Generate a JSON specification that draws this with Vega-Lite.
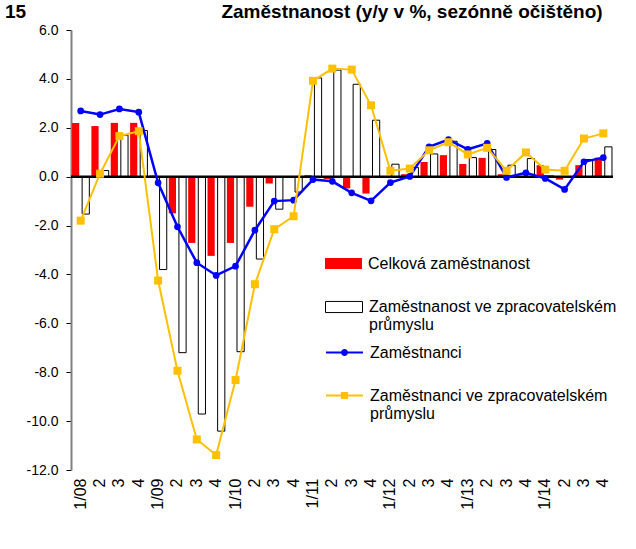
{
  "$schema": "https://vega.github.io/schema/vega-lite/v6.json",
  "width": 542,
  "height": 440,
  "autosize": {"type": "none"},
  "padding": {"left": 71, "top": 30, "right": 23, "bottom": 79},
  "background": "white",
  "title": {
    "text": "15\u00a0\u00a0\u00a0\u00a0\u00a0\u00a0\u00a0\u00a0\u00a0\u00a0\u00a0\u00a0\u00a0\u00a0\u00a0\u00a0\u00a0\u00a0\u00a0\u00a0\u00a0\u00a0\u00a0\u00a0\u00a0\u00a0\u00a0\u00a0\u00a0\u00a0\u00a0\u00a0\u00a0\u00a0\u00a0\u00a0\u00a0Zaměstnanost (y/y v %, sezónně očištěno)",
    "anchor": "start",
    "frame": "group",
    "dx": -66,
    "baseline": "alphabetic",
    "offset": -14,
    "font": "Liberation Sans",
    "fontSize": 19,
    "fontWeight": "bold",
    "color": "black"
  },
  "data": {
    "values": [
      {"q": "1/08", "celk": 2.2, "zpr": -1.53, "zam": 2.69, "zamzpr": -1.8},
      {"q": "2/08", "celk": 2.07, "zpr": 0.25, "zam": 2.54, "zamzpr": 0.12},
      {"q": "3/08", "celk": 2.2, "zpr": 1.7, "zam": 2.77, "zamzpr": 1.66},
      {"q": "4/08", "celk": 2.2, "zpr": 1.89, "zam": 2.64, "zamzpr": 1.86},
      {"q": "1/09", "celk": 0.05, "zpr": -3.8, "zam": -0.25, "zamzpr": -4.25},
      {"q": "2/09", "celk": -1.5, "zpr": -7.2, "zam": -2.05, "zamzpr": -7.94},
      {"q": "3/09", "celk": -2.71, "zpr": -9.71, "zam": -3.52, "zamzpr": -10.75},
      {"q": "4/09", "celk": -3.24, "zpr": -10.41, "zam": -4.04, "zamzpr": -11.39},
      {"q": "1/10", "celk": -2.71, "zpr": -7.16, "zam": -3.66, "zamzpr": -8.32},
      {"q": "2/10", "celk": -1.23, "zpr": -3.37, "zam": -2.19, "zamzpr": -4.4},
      {"q": "3/10", "celk": -0.28, "zpr": -1.33, "zam": -1.0, "zamzpr": -2.15},
      {"q": "4/10", "celk": 0.0, "zpr": -0.63, "zam": -0.96, "zamzpr": -1.62},
      {"q": "1/11", "celk": 0.06, "zpr": 4.04, "zam": -0.12, "zamzpr": 3.92},
      {"q": "2/11", "celk": -0.1, "zpr": 4.36, "zam": -0.19, "zamzpr": 4.42},
      {"q": "3/11", "celk": -0.48, "zpr": 3.78, "zam": -0.66, "zamzpr": 4.38},
      {"q": "4/11", "celk": -0.69, "zpr": 2.31, "zam": -0.99, "zamzpr": 2.92},
      {"q": "1/12", "celk": 0.0, "zpr": 0.51, "zam": -0.24, "zamzpr": 0.24},
      {"q": "2/12", "celk": 0.1, "zpr": 0.38, "zam": 0.01, "zamzpr": 0.33},
      {"q": "3/12", "celk": 0.6, "zpr": 0.93, "zam": 1.22, "zamzpr": 1.08},
      {"q": "4/12", "celk": 0.88, "zpr": 1.45, "zam": 1.52, "zamzpr": 1.41},
      {"q": "1/13", "celk": 0.52, "zpr": 0.78, "zam": 1.12, "zamzpr": 0.91},
      {"q": "2/13", "celk": 0.77, "zpr": 1.11, "zam": 1.36, "zamzpr": 1.18},
      {"q": "3/13", "celk": 0.1, "zpr": 0.47, "zam": -0.03, "zamzpr": 0.24},
      {"q": "4/13", "celk": 0.03, "zpr": 0.74, "zam": 0.16, "zamzpr": 0.99},
      {"q": "1/14", "celk": 0.47, "zpr": 0.03, "zam": -0.07, "zamzpr": 0.29},
      {"q": "2/14", "celk": -0.12, "zpr": 0.0, "zam": -0.52, "zamzpr": 0.24},
      {"q": "3/14", "celk": 0.47, "zpr": 0.7, "zam": 0.61, "zamzpr": 1.56},
      {"q": "4/14", "celk": 0.78, "zpr": 1.22, "zam": 0.78, "zamzpr": 1.77}
    ]
  },
  "layer": [
    {
      "mark": {"type": "bar"},
      "encoding": {
        "x": {"field": "q", "type": "nominal", "sort": null, "title": null,
              "scale": {"paddingInner": 0.106, "paddingOuter": 0.053},
              "axis": {"domain": false, "ticks": false, "labelAngle": 270, "labelPadding": 8,
                       "labelExpr": "substring(datum.value,0,1) == '1' ? datum.value : substring(datum.value,0,1)",
                       "labelFont": "Liberation Sans", "labelFontSize": 16, "labelFontWeight": "normal", "labelColor": "black"}},
        "xOffset": {"datum": "Celková zaměstnanost", "scale": {"domain": ["Celková zaměstnanost", "Zaměstnanost ve zpracovatelském průmyslu"], "paddingInner": 0.287, "paddingOuter": 0}},
        "y": {"field": "celk", "type": "quantitative", "title": null,
              "scale": {"domain": [-12, 6], "nice": false, "zero": false},
              "axis": {"values": [-12, -10, -8, -6, -4, -2, 0, 2, 4, 6], "grid": false,
                       "labelExpr": "datum.value < 0 ? '-' + format(-datum.value, '.1f') : format(datum.value, '.1f')",
                       "domainColor": "#808080", "domainWidth": 2, "tickColor": "black", "tickSize": 5,
                       "labelFont": "Liberation Sans", "labelFontSize": 14, "labelColor": "black", "labelPadding": 8}},
        "color": {"datum": "Celková zaměstnanost", "scale": {"domain": ["Celková zaměstnanost"], "range": ["#FF0000"]},
                  "legend": {"orient": "none", "legendX": 254, "legendY": 215, "title": null, "padding": 0,
                             "symbolType": "M-1,-0.3H1V0.3H-1Z", "symbolSize": 1369, "symbolStrokeWidth": 0,
                             "labelFont": "Liberation Sans", "labelFontSize": 16, "labelColor": "black", "labelOffset": 6, "labelLimit": 400}}
      }
    },
    {
      "mark": {"type": "bar", "stroke": "black", "strokeWidth": 1},
      "encoding": {
        "x": {"field": "q", "type": "nominal", "sort": null, "title": null},
        "xOffset": {"datum": "Zaměstnanost ve zpracovatelském průmyslu", "scale": {"domain": ["Celková zaměstnanost", "Zaměstnanost ve zpracovatelském průmyslu"], "paddingInner": 0.287, "paddingOuter": 0}},
        "y": {"field": "zpr", "type": "quantitative", "title": null},
        "color": {"datum": "Zaměstnanost ve zpracovatelském průmyslu", "scale": {"domain": ["Zaměstnanost ve zpracovatelském průmyslu"], "range": ["#FFFFFF"]},
                  "legend": {"orient": "none", "legendX": 254, "legendY": 258, "title": null, "padding": 0,
                             "symbolType": "M-1,-0.3H1V0.3H-1Z", "symbolSize": 1369, "symbolStrokeWidth": 1, "symbolStrokeColor": "black",
                             "labelExpr": "['Zaměstnanost ve zpracovatelském', 'průmyslu']",
                             "labelFont": "Liberation Sans", "labelFontSize": 16, "labelColor": "black", "labelOffset": 6, "labelLimit": 400}}
      }
    },
    {
      "data": {"values": [{"z": 0}]},
      "mark": {"type": "rule", "color": "black", "strokeWidth": 2.5},
      "encoding": {"y": {"field": "z", "type": "quantitative"}}
    },
    {
      "mark": {"type": "line", "strokeWidth": 2.5, "point": {"filled": true, "shape": "circle", "size": 45}},
      "encoding": {
        "x": {"field": "q", "type": "nominal", "sort": null, "title": null},
        "y": {"field": "zam", "type": "quantitative", "title": null},
        "color": {"datum": "Zaměstnanci", "scale": {"domain": ["Zaměstnanci"], "range": ["#0000FF"]},
                  "legend": {"orient": "none", "legendX": 254, "legendY": 303, "title": null, "padding": 0,
                             "symbolType": "M-1,0H1M-0.135,0A0.135,0.135,0,1,0,0.135,0A0.135,0.135,0,1,0,-0.135,0ZM-0.05,0A0.05,0.05,0,1,0,0.05,0A0.05,0.05,0,1,0,-0.05,0Z",
                             "symbolSize": 1369, "symbolStrokeWidth": 2, "symbolFillColor": "#0000FF",
                             "labelFont": "Liberation Sans", "labelFontSize": 16, "labelColor": "black", "labelOffset": 6, "labelLimit": 400}}
      }
    },
    {
      "mark": {"type": "line", "strokeWidth": 2, "point": {"filled": true, "shape": "square", "size": 64}},
      "encoding": {
        "x": {"field": "q", "type": "nominal", "sort": null, "title": null},
        "y": {"field": "zamzpr", "type": "quantitative", "title": null},
        "color": {"datum": "Zaměstnanci ve zpracovatelském průmyslu", "scale": {"domain": ["Zaměstnanci ve zpracovatelském průmyslu"], "range": ["#FFC000"]},
                  "legend": {"orient": "none", "legendX": 254, "legendY": 346, "title": null, "padding": 0,
                             "symbolType": "M-1,0H1M-0.14,-0.14H0.14V0.14H-0.14ZM-0.05,-0.05H0.05V0.05H-0.05Z",
                             "symbolSize": 1369, "symbolStrokeWidth": 2, "symbolFillColor": "#FFC000",
                             "labelExpr": "['Zaměstnanci ve zpracovatelském', 'průmyslu']",
                             "labelFont": "Liberation Sans", "labelFontSize": 16, "labelColor": "black", "labelOffset": 6, "labelLimit": 400}}
      }
    }
  ],
  "resolve": {"scale": {"color": "independent"}, "legend": {"color": "independent"}},
  "config": {"view": {"stroke": null}}
}
